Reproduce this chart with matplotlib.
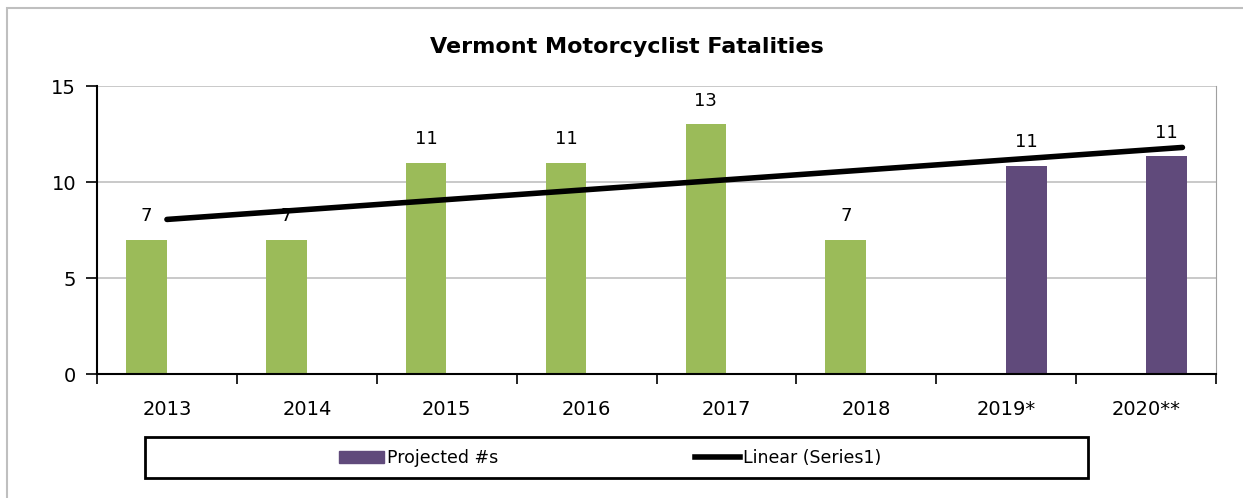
import matplotlib.pyplot as plt
from matplotlib.patches import Rectangle, Patch
from matplotlib.lines import Line2D

years = ['2013', '2014', '2015', '2016', '2017', '2018', '2019*', '2020**']
actual = [7, 7, 11, 11, 13, 7, None, None]
projected = [None, None, None, None, None, None, 10.85, 11.35]
projected_labels = ['11', '11']
trend_x = [0, 7.26]
trend_y = [8.05, 11.8]

green = '#9BBB59'
purple = '#604A7B'

fig = plt.figure(figsize=(12.43, 4.98), dpi=100)
ax = fig.add_axes([97 / 1243, 1 - 374 / 498, (1216 - 97) / 1243, (374 - 86) / 498])

# outer chart frame
fig.patches.append(Rectangle((7 / 1243, -0.1), 1.1, 1 - 8 / 498 + 0.1, transform=fig.transFigure,
                             fill=False, edgecolor='#bfbfbf', linewidth=1.5))

w = 0.29
off = 0.147
for i, v in enumerate(actual):
    if v is None:
        continue
    ax.bar(i - off, v, width=w, color=green, zorder=2)
    ax.text(i - off, v + 0.75, str(v), ha='center', va='bottom', fontsize=13)
for i, v in enumerate(projected):
    if v is None:
        continue
    ax.bar(i + off, v, width=w, color=purple, zorder=2)
    ax.text(i + off, v + 0.75, projected_labels[i - 6], ha='center', va='bottom', fontsize=13)

ax.plot(trend_x, trend_y, color='black', linewidth=4, solid_capstyle='round', zorder=3)

ax.set_xlim(-0.5, 7.5)
ax.set_ylim(0, 15)
ax.set_yticks([0, 5, 10, 15])
ax.yaxis.grid(True, color='#c0c0c0', linewidth=1.2, zorder=0)
ax.set_axisbelow(True)
ax.tick_params(axis='y', length=8, width=1.2, labelsize=14, pad=7, colors='black')

ax.set_xticks([i - 0.5 for i in range(9)])
ax.set_xticklabels([])
ax.set_xticks(range(len(years)), minor=True)
ax.set_xticklabels(years, minor=True, fontsize=14)
ax.tick_params(axis='x', which='major', length=7, width=1.2)
ax.tick_params(axis='x', which='minor', length=0, pad=19)

for s in ['left', 'bottom']:
    ax.spines[s].set_color('black')
    ax.spines[s].set_linewidth(1.5)
ax.spines['top'].set_visible(False)
ax.spines['right'].set_color('#a0a0a0')

fig.text(627 / 1243, 1 - 47 / 498, 'Vermont Motorcyclist Fatalities', ha='center', va='center',
         fontsize=16, fontweight='bold')

# legend box
fig.patches.append(Rectangle((145 / 1243, 1 - 478 / 498), (1088 - 145) / 1243, 41 / 498,
                             transform=fig.transFigure, fill=False, edgecolor='black', linewidth=2))
handles = [Patch(color=purple), Line2D([0], [0], color='black', linewidth=4)]
fig.legend(handles, ['Projected #s', 'Linear (Series1)'], loc='center',
           bbox_to_anchor=(610 / 1243, 1 - 458 / 498), ncol=2, frameon=False, fontsize=12.5,
           columnspacing=11.3, handlelength=2.6, handletextpad=0.2)

fig.savefig('out.png', dpi=100)
